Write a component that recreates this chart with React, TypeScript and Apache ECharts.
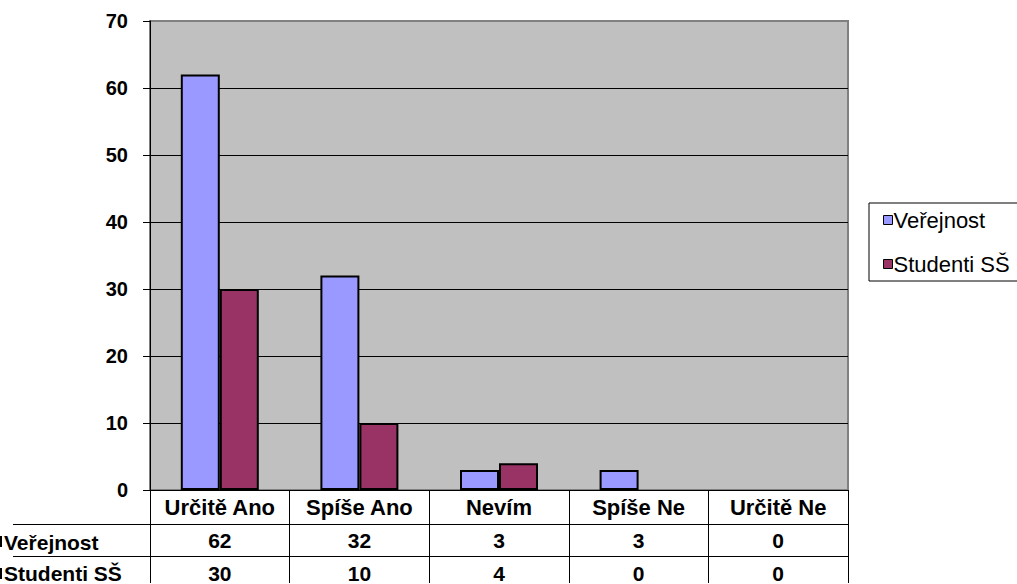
import React, { useEffect, useRef } from "react";
import * as echarts from "echarts";

const categories = ["Určitě Ano", "Spíše Ano", "Nevím", "Spíše Ne", "Určitě Ne"];
const seriesNames = ["Veřejnost", "Studenti SŠ"];
const verejnost = [62, 32, 3, 3, 0];
const studenti = [30, 10, 4, 0, 0];
const yTicks = { min: 0, max: 70, interval: 10 };

const FONT = "Liberation Sans";
const COLORS = ["#9999FF", "#993366"];

export default function App() {
  const ref = useRef<HTMLDivElement>(null);
  useEffect(() => {
    if (!ref.current) return;
    const chart = echarts.init(ref.current, undefined, { renderer: "svg" });
    const tableAxis = (values: number[], offset: number) => ({
      type: "category",
      data: categories,
      position: "bottom",
      offset,
      gridIndex: 0,
      axisLine: { show: false },
      axisTick: { show: false },
      splitLine: { show: false },
      axisLabel: {
        interval: 0,
        margin: 6,
        color: "#000",
        fontFamily: FONT,
        fontWeight: "bold",
        fontSize: 21,
        formatter: (_v: string, i: number) => String(values[i]),
      },
    });
    const barData = (values: number[]) =>
      values.map((v) => (v === 0 ? { value: v, itemStyle: { borderWidth: 0 } } : v));
    const nLines = (yTicks.max - yTicks.min) / yTicks.interval + 1;
    const splitColors = Array.from({ length: nLines }, (_x, i) => (i === nLines - 1 ? "#808080" : "#000"));
    const rowLabel = (text: string, y: number) => ({
      type: "text",
      x: 4,
      y,
      style: {
        text,
        fill: "#000",
        fontFamily: FONT,
        fontWeight: "bold",
        fontSize: 21,
        verticalAlign: "middle",
      },
    });
    chart.setOption({
      animation: false,
      textStyle: { fontFamily: FONT },
      grid: {
        left: 150,
        right: 169,
        top: 21,
        bottom: 93,
        show: true,
        backgroundColor: "#C0C0C0",
        borderColor: "#808080",
        borderWidth: 2,
      },
      legend: {
        data: seriesNames,
        orient: "vertical",
        left: 869,
        top: 203,
        padding: [6, 80, 6, 14],
        itemGap: 22,
        itemWidth: 9,
        itemHeight: 9,
        borderColor: "#000",
        borderWidth: 1,
        icon: "rect",
        itemStyle: { borderColor: "#000", borderWidth: 1 },
        textStyle: {
          color: "#000",
          fontFamily: FONT,
          fontSize: 22,
          lineHeight: 22,
          padding: [0, 0, 0, -4],
        },
      },
      xAxis: [
        {
          type: "category",
          data: categories,
          position: "bottom",
          axisLine: { show: true, lineStyle: { color: "#000", width: 1 } },
          axisTick: {
            show: true,
            interval: 0,
            length: 93,
            lineStyle: { color: "#000", width: 1 },
          },
          axisLabel: {
            interval: 0,
            margin: 6,
            color: "#000",
            fontFamily: FONT,
            fontWeight: "bold",
            fontSize: 22,
          },
        },
        tableAxis(verejnost, 34),
        tableAxis(studenti, 67),
      ],
      yAxis: {
        type: "value",
        min: yTicks.min,
        max: yTicks.max,
        interval: yTicks.interval,
        axisLine: { show: true, lineStyle: { color: "#000", width: 1 } },
        axisTick: { show: true, length: 7, lineStyle: { color: "#000" } },
        splitLine: { show: true, lineStyle: { color: splitColors, width: 1 } },
        axisLabel: {
          margin: 22,
          color: "#000",
          fontFamily: FONT,
          fontWeight: "bold",
          fontSize: 20,
        },
      },
      series: [
        {
          name: seriesNames[0],
          type: "bar",
          data: barData(verejnost),
          barWidth: 39,
          barGap: "0%",
          itemStyle: { color: COLORS[0], borderColor: "#000", borderWidth: 2 },
        },
        {
          name: seriesNames[1],
          type: "bar",
          data: barData(studenti),
          barWidth: 39,
          barGap: "0%",
          itemStyle: { color: COLORS[1], borderColor: "#000", borderWidth: 2 },
        },
      ],
      graphic: [
        { type: "line", shape: { x1: 13, y1: 524.5, x2: 848, y2: 524.5 }, style: { stroke: "#000", lineWidth: 1 } },
        { type: "line", shape: { x1: 13, y1: 556.5, x2: 848, y2: 556.5 }, style: { stroke: "#000", lineWidth: 1 } },
        { type: "rect", shape: { x: 0, y: 536, width: 2, height: 11 }, style: { fill: "#000" } },
        { type: "rect", shape: { x: 0, y: 568, width: 2, height: 11 }, style: { fill: "#000" } },
        rowLabel(seriesNames[0], 542),
        rowLabel(seriesNames[1], 573),
      ],
    });
    return () => chart.dispose();
  }, []);
  return (
    <div
      ref={ref}
      style={{ position: "fixed", left: 0, top: 0, width: 1017, height: 584, background: "#fff" }}
    />
  );
}
